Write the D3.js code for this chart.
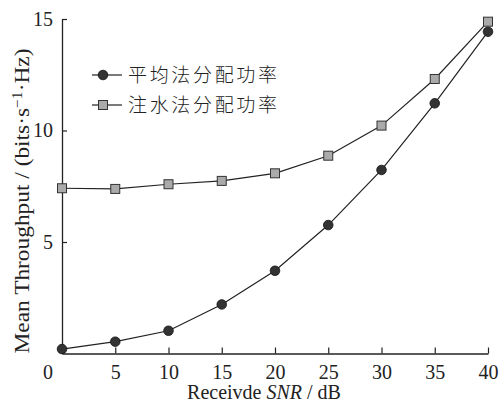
<!DOCTYPE html>
<html>
<head>
<meta charset="utf-8">
<script src="https://cdn.jsdelivr.net/npm/d3@7/dist/d3.min.js"></script>
<style>
  body { margin: 0; background: #fff; }
  text { font-family: "Liberation Serif", "DejaVu Serif", serif; fill: #222; }
  .cjk { font-family: "Noto Sans CJK SC", sans-serif; font-weight: 300; }
</style>
</head>
<body>
<svg id="chart" width="501" height="405"></svg>
<script>
// data
var snr = [0, 5, 10, 15, 20, 25, 30, 35, 40];
var equalPower = [0.2, 0.53, 1.02, 2.2, 3.71, 5.76, 8.23, 11.22, 14.43];
var waterFilling = [7.41, 7.38, 7.59, 7.74, 8.08, 8.87, 10.22, 12.31, 14.88];
var xTicks = [5, 10, 15, 20, 25, 30, 35, 40];
var yTicks = [5, 10, 15];
var seriesNames = ["平均法分配功率", "注水法分配功率"];

var svg = d3.select("#chart");
var plotL = 62, plotR = 488, plotT = 19, plotB = 353.5;

var x = d3.scaleLinear().domain([0, 40]).range([plotL, plotR]);
var y = d3.scaleLinear().domain([0, 15]).range([plotB, plotT]);

var ink = "#222";

// axes, ticks inward
var xAxis = svg.append("g").attr("transform", "translate(0," + plotB + ")")
  .call(d3.axisBottom(x).tickValues(xTicks).tickSizeInner(-6).tickSizeOuter(0).tickPadding(10));
var yAxis = svg.append("g").attr("transform", "translate(" + plotL + ",0)")
  .call(d3.axisLeft(y).tickValues(yTicks).tickSizeInner(-5).tickSizeOuter(0).tickPadding(9));

[xAxis, yAxis].forEach(function(g){
  g.select(".domain").attr("stroke", ink).attr("stroke-width", 1.3);
  g.selectAll(".tick line").attr("stroke", ink).attr("stroke-width", 1.2);
  g.selectAll(".tick text").attr("fill", ink).style("font-size", "20px")
    .style("font-family", "Liberation Serif, serif");
});
xAxis.selectAll(".tick text").attr("dy", "0.75em").attr("y", 10);

// origin label
svg.append("text").attr("x", 48).attr("y", 379).attr("text-anchor", "middle")
  .style("font-size", "20px").text("0");

// lines
var line = d3.line().x(function(d){ return x(d[0]); }).y(function(d){ return y(d[1]); });

var eqData = snr.map(function(s, i){ return [s, equalPower[i]]; });
var wfData = snr.map(function(s, i){ return [s, waterFilling[i]]; });

[eqData, wfData].forEach(function(d){
  svg.append("path").datum(d).attr("d", line)
    .attr("fill", "none").attr("stroke", ink).attr("stroke-width", 1.2);
});

function drawCircle(g, cx, cy){
  g.append("circle").attr("cx", cx).attr("cy", cy).attr("r", 4.8)
    .attr("fill", "#333").attr("stroke", "#111").attr("stroke-width", 0.8);
}
function drawSquare(g, cx, cy){
  g.append("rect").attr("x", cx - 4.5).attr("y", cy - 4.5).attr("width", 9).attr("height", 9)
    .attr("fill", "#aaa").attr("stroke", "#333").attr("stroke-width", 1);
}

var marks = svg.append("g");
eqData.forEach(function(d){ drawCircle(marks, x(d[0]), y(d[1])); });
wfData.forEach(function(d){ drawSquare(marks, x(d[0]), y(d[1])); });

// legend
var legend = svg.append("g");
[75, 105].forEach(function(ly, i){
  legend.append("line").attr("x1", 92).attr("x2", 122).attr("y1", ly).attr("y2", ly)
    .attr("stroke", ink).attr("stroke-width", 1.2);
  if (i === 0) drawCircle(legend, 103, ly); else drawSquare(legend, 103, ly);
  legend.append("text").attr("class", "cjk").attr("x", 128).attr("y", ly)
    .attr("dy", "0.35em").attr("textLength", 149).attr("lengthAdjust", "spacing")
    .style("font-size", "19px").text(seriesNames[i]);
});

// axis titles
var xt = svg.append("text").attr("x", 264).attr("y", 399).attr("text-anchor", "middle")
  .style("font-size", "20px");
xt.append("tspan").text("Receivde ");
xt.append("tspan").style("font-style", "italic").text("SNR");
xt.append("tspan").text(" / dB");

var yt = svg.append("text").attr("transform", "translate(29,201) rotate(-90)")
  .attr("text-anchor", "middle").attr("textLength", 305).attr("lengthAdjust", "spacingAndGlyphs")
  .style("font-size", "21px");
yt.append("tspan").text("Mean Throughput / (bits·s");
yt.append("tspan").attr("dy", -7).style("font-size", "14px").text("−1");
yt.append("tspan").attr("dy", 7).text("·Hz)");
</script>
</body>
</html>
